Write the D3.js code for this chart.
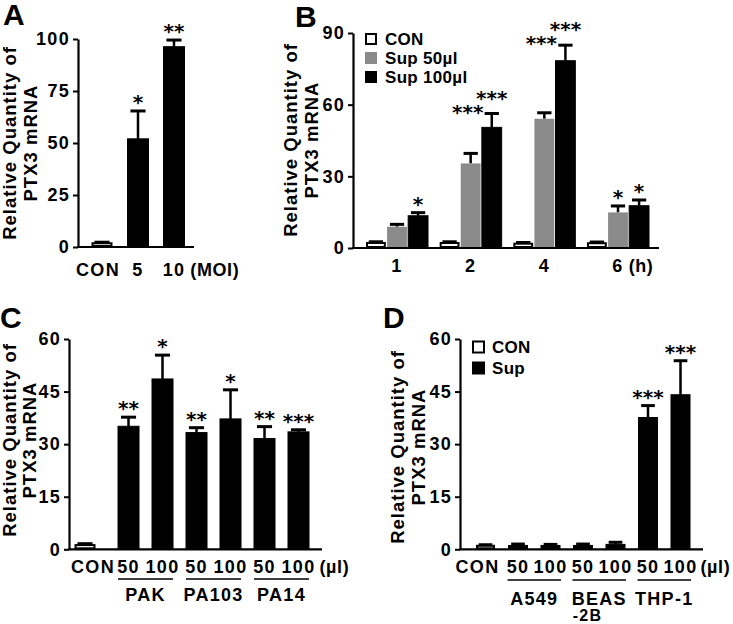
<!DOCTYPE html>
<html><head><meta charset="utf-8">
<script src="https://cdn.jsdelivr.net/npm/d3@7"></script>
<style>
body{margin:0;background:#fff}
svg text{font-family:"Liberation Sans",Arial,sans-serif;font-weight:bold;fill:#000}
</style>
</head><body>
<svg id="chart" width="733" height="624"></svg>
<script>
// ---------------- DATA ----------------
// Panel A
const aCategories = ["CON", "5", "10"];
const aMeans = [1.8, 52.0, 96.3];
const aErrors = [0.5, 13.4, 3.2];
const aStars = ["", "*", "**"];
const aTicks = [0, 25, 50, 75, 100];
const aUnit = "(MOI)";

// Panel B
const bGroups = ["1", "2", "4", "6"];
const bSeries = ["CON", "Sup 50\u00b5l", "Sup 100\u00b5l"];
const bCon = [2.1, 2.1, 1.8, 2.0];
const bConErr = [0.5, 0.5, 0.5, 0.5];
const bSup50 = [8.9, 35.4, 54.1, 14.9];
const bSup50Err = [1.0, 4.2, 2.5, 2.7];
const bSup100 = [13.5, 50.5, 78.4, 17.7];
const bSup100Err = [1.3, 5.8, 6.5, 2.4];
const bStars50 = ["", "***", "***", "*"];
const bStars100 = ["*", "***", "***", "*"];
const bTicks = [0, 30, 60, 90];
const bUnit = "(h)";

// Panel C
const cLabels = ["CON", "50", "100", "50", "100", "50", "100"];
const cStrains = ["PAK", "PA103", "PA14"];
const cMeans = [1.2, 35.1, 48.6, 33.3, 37.2, 31.6, 33.5];
const cErrors = [0.4, 2.6, 6.8, 1.4, 8.3, 3.4, 0.6];
const cStars = ["", "**", "*", "**", "*", "**", "***"];
const cTicks = [0, 15, 30, 45, 60];
const cUnit = "(\u00b5l)";

// Panel D
const dLabels = ["CON", "50", "100", "50", "100", "50", "100"];
const dCells = ["A549", "BEAS|-2B", "THP-1"];
const dMeans = [1.0, 1.1, 1.1, 1.1, 1.4, 37.6, 44.1];
const dErrors = [0.3, 0.4, 0.3, 0.4, 0.6, 3.4, 9.7];
const dStars = ["", "", "", "", "", "***", "***"];
const dSeries = ["CON", "Sup"];
const dTicks = [0, 15, 30, 45, 60];
const dUnit = "(\u00b5l)";

const yTitle = ["Relative Quantity of", "PTX3 mRNA"];

// ---------------- HELPERS ----------------
const svg = d3.select("#chart");
const GRAY = "#8a8a8a";
const LS = 1.3; // letter spacing of axis texts

function yAxis(g, y, ax, ticks) {
  const a = g.append("g").attr("transform", `translate(${ax},0)`)
    .call(d3.axisLeft(y).tickValues(ticks).tickSize(5).tickSizeOuter(0).tickPadding(3).tickFormat(d3.format("d")));
  a.select(".domain").attr("stroke", "#000").attr("stroke-width", 2.2);
  a.selectAll(".tick line").attr("stroke", "#000").attr("stroke-width", 2);
  a.selectAll(".tick text").attr("font-family", "Liberation Sans, Arial, sans-serif")
    .attr("font-size", 18).attr("font-weight", "bold").attr("letter-spacing", LS).attr("fill", "#000");
  a.attr("font-family", null).attr("font-size", null);
}

function xLine(g, x1, x2, y0) {
  g.append("line").attr("x1", x1 - 1).attr("x2", x2).attr("y1", y0).attr("y2", y0)
    .attr("stroke", "#000").attr("stroke-width", 2.2);
}

function bar(g, cx, w, y, v, e, fill) {
  const y0 = y(0);
  const capW = w * 0.72;
  g.append("line").attr("x1", cx).attr("x2", cx).attr("y1", y(v)).attr("y2", y(v + e))
    .attr("stroke", "#000").attr("stroke-width", 2.5);
  g.append("line").attr("x1", cx - capW / 2).attr("x2", cx + capW / 2).attr("y1", y(v + e)).attr("y2", y(v + e))
    .attr("stroke", "#000").attr("stroke-width", 3);
  const r = g.append("rect").attr("x", cx - w / 2).attr("y", y(v)).attr("width", w).attr("height", y0 - y(v))
    .attr("fill", fill);
  if (fill === "#fff") r.attr("stroke", "#000").attr("stroke-width", 2).attr("x", cx - w / 2 + 1).attr("width", w - 2).attr("height", y0 - y(v) - 1);
  else if (fill === "#000") r.attr("stroke", "#000").attr("stroke-width", 1);
}

function star(g, cx, yBase, s) {
  if (!s) return;
  g.append("text").attr("x", cx).attr("y", yBase).attr("text-anchor", "middle")
    .style("font-family", "'DejaVu Sans', sans-serif").attr("font-size", 20).attr("letter-spacing", 0).text(s);
}

function xLabel(g, cx, yb, s) {
  return g.append("text").attr("x", cx).attr("y", yb).attr("text-anchor", "middle")
    .attr("font-size", 18).attr("letter-spacing", LS).text(s);
}

function unitLabel(g, lastText, yb, s, gap) {
  const bb = lastText.node().getBBox();
  g.append("text").attr("x", bb.x + bb.width + gap).attr("y", yb).attr("font-size", 18).attr("letter-spacing", 0.6).text(s);
}

function yLabel(g, xb1, xb2, yc) {
  [xb1, xb2].forEach((xb, i) => {
    g.append("text").attr("transform", `translate(${xb},${yc}) rotate(-90)`)
      .attr("text-anchor", "middle").attr("font-size", 18.5).attr("letter-spacing", 1).text(yTitle[i]);
  });
}

function panelLetter(g, x, yb, s) {
  g.append("text").attr("x", x).attr("y", yb).attr("font-size", 30).text(s);
}

// ---------------- PANEL A ----------------
(function () {
  const g = svg.append("g");
  const ax = 78, axEnd = 194;
  const y = d3.scaleLinear().domain([0, 100]).range([247, 39]);
  const x = d3.scalePoint().domain(aCategories).range([102, 174]);
  const w = 21;
  aCategories.forEach((c, i) => {
    bar(g, x(c), w, y, aMeans[i], aErrors[i], i === 0 ? "#fff" : "#000");
    star(g, x(c), y(aMeans[i] + aErrors[i]) - 2, aStars[i]);
  });
  xLine(g, ax, axEnd, y(0));
  yAxis(g, y, ax, aTicks);
  let last;
  aCategories.forEach((c, i) => { last = xLabel(g, x(c) + (i === 0 ? -4 : 0), 276, c); });
  unitLabel(g, last, 276, aUnit, 5);
  yLabel(g, 16, 37, 143);
  panelLetter(g, 3, 25, "A");
})();

// ---------------- PANEL B ----------------
(function () {
  const g = svg.append("g");
  const ax = 353, axEnd = 659;
  const y = d3.scaleLinear().domain([0, 90]).range([248, 33]);
  const x = d3.scalePoint().domain(bGroups).range([397, 618]);
  const inner = d3.scaleBand().domain(bSeries).range([-31, 31]).paddingInner(0.06);
  const w = inner.bandwidth();
  const vals = [bCon, bSup50, bSup100];
  const errs = [bConErr, bSup50Err, bSup100Err];
  const fills = ["#fff", GRAY, "#000"];
  bGroups.forEach((grp, i) => {
    bSeries.forEach((s, j) => {
      const cx = x(grp) + inner(s) + w / 2;
      bar(g, cx, w, y, vals[j][i], errs[j][i], fills[j]);
    });
    const c50 = x(grp) + inner(bSeries[1]) + w / 2;
    const c100 = x(grp) + inner(bSeries[2]) + w / 2;
    const top100 = y(bSup100[i] + bSup100Err[i]);
    if (bStars50[i] === "***" && bStars100[i] === "***") {
      star(g, c50 - 3, top100 + 5, bStars50[i]);
      star(g, c100, top100 - 9, bStars100[i]);
    } else {
      star(g, c50, y(bSup50[i] + bSup50Err[i]) - 2, bStars50[i]);
      star(g, c100, top100 - 2, bStars100[i]);
    }
  });
  xLine(g, ax, axEnd, y(0));
  yAxis(g, y, ax, bTicks);
  let last;
  bGroups.forEach(grp => { last = xLabel(g, x(grp), 272, grp); });
  unitLabel(g, last, 272, bUnit, 5);
  yLabel(g, 297, 318, 140);
  panelLetter(g, 295, 27, "B");
  const lg = g.append("g");
  bSeries.forEach((s, j) => {
    const cy = 39 + j * 19;
    if (j === 0) lg.append("rect").attr("x", 366).attr("y", cy - 5).attr("width", 10).attr("height", 10)
      .attr("fill", "#fff").attr("stroke", "#000").attr("stroke-width", 2);
    else lg.append("rect").attr("x", 365).attr("y", cy - 6).attr("width", 12).attr("height", 12).attr("fill", fills[j]);
    lg.append("text").attr("x", 385).attr("y", cy + 6).attr("font-size", 17).attr("letter-spacing", 0.3).text(s);
  });
})();

// ---------------- PANEL C ----------------
(function () {
  const g = svg.append("g");
  const ax = 69, axEnd = 322;
  const y = d3.scaleLinear().domain([0, 60]).range([549.3, 339]);
  const gap = 0.28;
  const slot = i => (i === 0 ? 0 : i + gap);
  const x = d3.scaleLinear().domain([0, cLabels.length - 1 + gap]).range([85, 298.5]);
  const w = 21;
  cLabels.forEach((c, i) => {
    bar(g, x(slot(i)), w, y, cMeans[i], cErrors[i], i === 0 ? "#fff" : "#000");
    star(g, x(slot(i)), y(cMeans[i] + cErrors[i]) - 2, cStars[i]);
  });
  xLine(g, ax, axEnd, y(0));
  yAxis(g, y, ax, cTicks);
  let last;
  cLabels.forEach((c, i) => { last = xLabel(g, x(slot(i)) + (i === 0 ? 8 : 0), 573, c); });
  unitLabel(g, last, 573, cUnit, 4);
  cStrains.forEach((s, k) => {
    const a = x(slot(1 + 2 * k)) - w / 2, b = x(slot(2 + 2 * k)) + w / 2;
    g.append("line").attr("x1", a).attr("x2", b).attr("y1", 579).attr("y2", 579).attr("stroke", "#000").attr("stroke-width", 1.5);
    g.append("text").attr("x", (a + b) / 2).attr("y", 601).attr("text-anchor", "middle").attr("font-size", 18).attr("letter-spacing", LS).text(s);
  });
  yLabel(g, 16, 36, 440);
  panelLetter(g, 0, 328, "C");
})();

// ---------------- PANEL D ----------------
(function () {
  const g = svg.append("g");
  const ax = 460, axEnd = 703;
  const y = d3.scaleLinear().domain([0, 60]).range([549.3, 339]);
  const x = d3.scalePoint().domain(d3.range(dLabels.length)).range([485.5, 680.5]);
  const w = 19;
  dLabels.forEach((c, i) => {
    bar(g, x(i), w, y, dMeans[i], dErrors[i], i === 0 ? "#fff" : "#000");
    star(g, x(i), y(dMeans[i] + dErrors[i]) - 2, dStars[i]);
  });
  xLine(g, ax, axEnd, y(0));
  yAxis(g, y, ax, dTicks);
  let last;
  dLabels.forEach((c, i) => { last = xLabel(g, x(i) + (i === 0 ? -8 : 0), 573, c); });
  unitLabel(g, last, 573, dUnit, 3);
  dCells.forEach((s, k) => {
    const a = x(1 + 2 * k) - w / 2, b = x(2 + 2 * k) + w / 2;
    g.append("line").attr("x1", a - 1).attr("x2", b + 1).attr("y1", 580).attr("y2", 580).attr("stroke", "#000").attr("stroke-width", 1.5);
    const parts = s.split("|");
    const t = g.append("text").attr("y", 605).attr("font-size", 18).attr("letter-spacing", LS);
    if (parts.length === 1) {
      t.attr("x", (a + b) / 2).attr("text-anchor", "middle").text(parts[0]);
    } else {
      // measure first line to left-align both lines under the group centre
      const probe = g.append("text").attr("font-size", 18).attr("letter-spacing", LS).text(parts[0]);
      const wd = probe.node().getComputedTextLength();
      probe.remove();
      const left = (a + b) / 2 - wd / 2;
      t.append("tspan").attr("x", left).attr("y", 605).text(parts[0]);
      t.append("tspan").attr("x", left + 1).attr("y", 621).attr("font-size", 16).text(parts[1]);
    }
  });
  yLabel(g, 404, 425, 447);
  panelLetter(g, 383, 328, "D");
  dSeries.forEach((s, j) => {
    const cy = 347 + j * 21;
    if (j === 0) g.append("rect").attr("x", 473).attr("y", cy - 5.5).attr("width", 11).attr("height", 11)
      .attr("fill", "#fff").attr("stroke", "#000").attr("stroke-width", 2);
    else g.append("rect").attr("x", 472).attr("y", cy - 6.5).attr("width", 13).attr("height", 13).attr("fill", "#000");
    g.append("text").attr("x", 492).attr("y", cy + 6).attr("font-size", 17).attr("letter-spacing", 0.3).text(s);
  });
})();
</script>
</body></html>
